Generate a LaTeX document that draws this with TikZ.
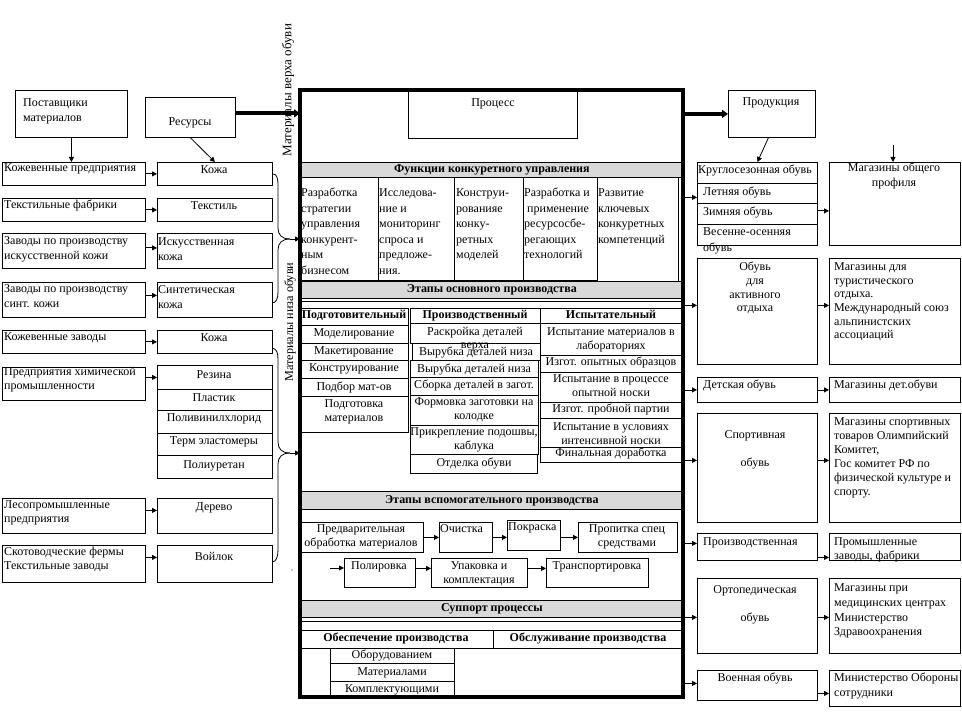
\documentclass[tikz,border=0pt]{standalone}
\usepackage{fontspec}
\setmainfont{Liberation Serif}
\usetikzlibrary{arrows.meta}
\definecolor{bandc}{RGB}{217,217,217}
\AtBeginDocument{\fontsize{12}{15}\selectfont}
\newcommand\fs{\rule{0pt}{10.5pt}}
\newcommand\Bx[5]{\node[bx,minimum width=#4pt,minimum height=#5pt] (#1) at (#2,#3) {};}
\newcommand\Tx[5]{\node[tt,#2] (#1) at (#3,#4) {\fs#5};}
\newcommand\Bd[6]{\node[bx,fill=bandc,minimum width=#4pt,minimum height=#5pt,font=\bfseries] (#1) at (#2,#3) {#6};}
\tikzset{
 bx/.style={draw,line width=0.8pt,anchor=north west,inner sep=0pt},
 tt/.style={inner sep=0pt,anchor=north west,align=left,yshift=7pt},
 cc/.style={anchor=north,align=center},
 bsk/.style={font={\fontsize{12}{#1}\selectfont}},
 arr/.style={line width=0.8pt,-{Triangle[length=5pt,width=5pt]}},
 thk/.style={line width=4pt,-{Triangle[length=6pt,width=8pt]}},
 ln/.style={line width=0.8pt},
}
\begin{document}
\begin{tikzpicture}[x=1pt,y=-1pt]
\useasboundingbox (0,0) rectangle (962,714);
\node[anchor=north west,minimum width=383pt,minimum height=607pt,inner sep=0pt] (main) at (300,90) {};
% ---------- left side
\Bx{post}{15}{90}{112}{47}
\Tx{postt}{}{23}{103}{Поставщики\\материалов}
\Bx{res}{145}{97}{90}{40}
\Tx{rest}{cc}{190}{122}{Ресурсы}
\Bx{s1}{2}{162}{143}{23} \Tx{s1t}{}{4}{168}{Кожевенные предприятия}
\Bx{s2}{2}{198}{143}{23} \Tx{s2t}{}{4}{205}{Текстильные фабрики}
\Bx{s3}{2}{233}{143}{35} \Tx{s3t}{}{4}{241}{Заводы по производству\\искусственной кожи}
\Bx{s4}{2}{282}{143}{35} \Tx{s4t}{}{4}{289}{Заводы по производству\\синт. кожи}
\Bx{s5}{2}{330}{143}{23} \Tx{s5t}{}{4}{337}{Кожевенные заводы}
\Bx{s6}{2}{367}{143}{33} \Tx{s6t}{bsk=14}{4}{372}{Предприятия химической\\промышленности}
\Bx{s7}{2}{498}{143}{35} \Tx{s7t}{bsk=14}{4}{505}{Лесопромышленные\\предприятия}
\Bx{s8}{2}{545}{143}{37} \Tx{s8t}{bsk=14}{4}{552}{Скотоводческие фермы\\Текстильные заводы}
\Bx{m1}{157}{162}{115}{23} \Tx{m1t}{cc}{214}{170}{Кожа}
\Bx{m2}{157}{198}{115}{23} \Tx{m2t}{cc}{214}{206}{Текстиль}
\Bx{m3}{157}{233}{115}{35} \Tx{m3t}{}{158}{242}{Искусственная\\кожа}
\Bx{m4}{157}{282}{115}{35} \Tx{m4t}{}{158}{290}{Синтетическая\\кожа}
\Bx{m5}{157}{330}{115}{23} \Tx{m5t}{cc}{214}{338}{Кожа}
\Bx{r1}{157}{365}{115}{24} \Tx{r1t}{cc}{214}{375}{Резина}
\Bx{r2}{157}{389}{115}{21} \Tx{r2t}{cc}{214}{398}{Пластик}
\Bx{r3}{157}{410}{115}{23} \Tx{r3t}{cc}{214}{418}{Поливинилхлорид}
\Bx{r4}{157}{433}{115}{22} \Tx{r4t}{cc}{214}{441}{Терм эластомеры}
\Bx{r5}{157}{455}{115}{23} \Tx{r5t}{cc}{214}{465}{Полиуретан}
\Bx{m7}{157}{498}{115}{35} \Tx{m7t}{cc}{214}{507}{Дерево}
\Bx{m8}{157}{545}{115}{37} \Tx{m8t}{cc}{214}{557}{Войлок}
\draw[arr] (post.south) -- (post.south |- s1.north);
\draw[arr] (res.south) -- (m1.north);
\draw[arr] (s1.east) -- (m1.west);
\draw[arr] (s2.east) -- (m2.west);
\draw[arr] ([yshift=3pt]s3.east) -- ([yshift=3pt]m3.west);
\draw[arr] ([yshift=4.5pt]s4.east) -- ([yshift=4.5pt]m4.west);
\draw[arr] (s5.east) -- (m5.west);
\draw[arr] (s6.east |- r1.west) -- (r1.west);
\draw[arr] ([yshift=5.5pt]s7.east) -- ([yshift=5.5pt]m7.west);
\draw[arr] ([yshift=6.5pt]s8.east) -- ([yshift=6.5pt]m8.west);
% braces
\coordinate (b1) at (290,239);
\coordinate (b2) at (290,453);
\draw[ln] (m1.east) .. controls (277,174) and (278,178) .. (278,186) -- (278,228) .. controls (278,235) and (282,239) .. (b1);
\draw[ln] (b1) .. controls (282,239) and (278,243) .. (278,250) -- (278,292) .. controls (278,299) and (276,303) .. (272,303);
\draw[ln] (272,348) .. controls (277,349) and (278,353) .. (278,360) -- (278,442) .. controls (278,449) and (282,453) .. (b2);
\draw[ln] (b2) .. controls (282,453) and (278,457) .. (278,464) -- (278,550) .. controls (278,557) and (276,562) .. (272,562);
\draw[arr] (b1) -- (b1 -| main.west);
\draw[arr] (b2) -- (b2 -| main.west);
\fill (292,570) circle (0.6pt);
\node[rotate=90,inner sep=0pt,font=\fontsize{13}{15}\selectfont] (lv) at (288,90) {Материалы верха обуви};
\node[rotate=90,inner sep=0pt,font=\fontsize{12.2}{15}\selectfont] (ln) at (290,322) {Материалы низа обуви};
\draw[thk] ([yshift=4pt]res.east) -- ([yshift=4pt]res.east -| main.west);
% ---------- main box contents
\Bx{proc}{408}{90}{169}{48} \Tx{proct}{cc}{493}{103}{Процесс}
\Bd{f1}{300}{162}{383}{15}{Функции конкуретного управления}
\Bx{fc1}{300}{177}{78}{103}
\Bx{fc2}{378}{177}{76}{103}
\Bx{fc3}{454}{177}{69}{103}
\Bx{fc4}{523}{177}{74}{103}
\Bx{fc5}{597}{177}{81}{105}
\Tx{fc1t}{bsk=15.5}{301}{193}{Разработка\\стратегии\\управления\\конкурент-\\ным\\бизнесом}
\Tx{fc2t}{bsk=15.5}{379}{193}{Исследова-\\ние и\\мониторинг\\спроса и\\предложе-\\ния.}
\Tx{fc3t}{bsk=15.5}{456}{193}{Конструи-\\рованияе\\конку-\\ретных\\моделей}
\Tx{fc4t}{bsk=15.5}{524}{193}{Разработка и\\\ применение\\ресурсосбе-\\регающих\\технологий}
\Tx{fc5t}{bsk=15.5}{598}{193}{Развитие\\ключевых\\конкуретных\\компетенций}
\Bd{f2}{300}{281}{383}{17}{Этапы основного производства}
\draw[ln] (f2.south west |- 0,301) -- (f2.south east |- 0,301);
% column A
\Bx{a0}{300}{308}{108}{17} \Tx{a0t}{cc,font=\bfseries}{354}{315}{Подготовительный}
\Bx{a1}{300}{325}{108}{18} \Tx{a1t}{cc}{354}{333}{Моделирование}
\Bx{a2}{300}{343}{108}{17} \Tx{a2t}{cc}{354}{351}{Макетирование}
\Bx{a3}{300}{360}{108}{18} \Tx{a3t}{cc}{354}{368}{Конструирование}
\Bx{a4}{300}{378}{108}{18} \Tx{a4t}{cc}{354}{387}{Подбор мат-ов}
\Bx{a5}{300}{396}{108}{36} \Tx{a5t}{cc,bsk=13.5}{354}{404}{Подготовка\\материалов}
% column B
\Bx{b0}{410}{308}{130}{15} \Tx{b0t}{cc,font=\bfseries}{475}{315}{Производственный}
\Bx{b1}{410}{323}{130}{20} \Tx{b1t}{cc,bsk=12.5}{475}{332}{Раскройка деталей\\верха}
\Bx{b2}{412}{343}{128}{17} \Tx{b2t}{cc}{476}{352}{Вырубка деталей низа}
\Bx{b3}{410}{360}{128}{17} \Tx{b3t}{cc}{474}{369}{Вырубка деталей низа}
\Bx{b4}{410}{377}{128}{18} \Tx{b4t}{cc}{474}{385}{Сборка деталей в загот.}
\Bx{b5}{410}{395}{128}{30} \Tx{b5t}{cc,bsk=13.5}{474}{402}{Формовка заготовки на\\колодке}
\Bx{b6}{410}{425}{128}{29} \Tx{b6t}{cc,bsk=13.5}{474}{432}{Прикрепление подошвы,\\каблука}
\Bx{b7}{410}{454}{127}{19} \Tx{b7t}{cc}{474}{463}{Отделка обуви}
% column C
\Bx{c0}{540}{308}{142}{15} \Tx{c0t}{cc,font=\bfseries}{611}{315}{Испытательный}
\Bx{c1}{540}{323}{142}{32} \Tx{c1t}{cc,bsk=13.5}{611}{332}{Испытание материалов в\\лабораториях}
\Bx{c2}{540}{355}{142}{17} \Tx{c2t}{cc}{611}{362}{Изгот. опытных образцов}
\Bx{c3}{540}{372}{142}{30} \Tx{c3t}{cc,bsk=13.5}{611}{379}{Испытание в процессе\\опытной носки}
\Bx{c4}{540}{402}{142}{16} \Tx{c4t}{cc}{611}{409}{Изгот. пробной партии}
\Bx{c5}{540}{418}{142}{29} \Tx{c5t}{cc,bsk=13.5}{611}{427}{Испытание в условиях\\интенсивной носки}
\Bx{c6}{540}{447}{142}{15} \Tx{c6t}{cc}{611}{453}{Финальная доработка}
% auxiliary
\Bd{f3}{300}{491}{383}{18}{Этапы вспомогательного производства}
\Bx{v1}{300}{522}{123}{30} \Tx{v1t}{cc,bsk=14}{361}{529}{Предварительная\\обработка материалов}
\Bx{v2}{439}{522}{53}{30} \Tx{v2t}{}{440}{529}{Очистка}
\Bx{v3}{507}{520}{53}{30} \Tx{v3t}{}{508}{527}{Покраска}
\Bx{v4}{578}{522}{99}{30} \Tx{v4t}{cc,bsk=14}{627}{529}{Пропитка спец\\средствами}
\draw[arr] (v1.east) -- (v1.east -| v2.west);
\draw[arr] (v2.east) -- (v2.east -| v3.west);
\draw[arr] ([yshift=-2pt]v3.east) -- ([yshift=-2pt]v3.east -| v4.west);
\Bx{w1}{344}{558}{71}{29} \Tx{w1t}{cc}{379}{566}{Полировка}
\Bx{w2}{431}{558}{96}{29} \Tx{w2t}{cc,bsk=14}{479}{566}{Упаковка и\\комплектация}
\Bx{w3}{546}{558}{102}{29} \Tx{w3t}{cc}{597}{566}{Транспортировка}
\coordinate (w0) at (330,568);
\draw[arr] (w0) -- (w0 -| w1.west);
\draw[arr] ([yshift=4.5pt]w1.east) -- ([yshift=4.5pt]w2.west);
\draw[arr] ([yshift=4.5pt]w2.east) -- ([yshift=4.5pt]w3.west);
% support
\Bd{f4}{300}{600}{383}{17}{Суппорт процессы}
\draw[ln] (f4.south west |- 0,621) -- (f4.south east |- 0,621);
\Bx{o1}{300}{630}{193}{18} \Tx{o1t}{cc,font=\bfseries}{396}{638}{Обеспечение производства}
\Bx{o2}{493}{630}{190}{18} \Tx{o2t}{cc,font=\bfseries}{588}{638}{Обслуживание производства}
\Bx{p1}{330}{648}{124}{15} \Tx{p1t}{cc}{392}{655}{Оборудованием}
\Bx{p2}{330}{663}{124}{18} \Tx{p2t}{cc}{392}{672}{Материалами}
\Bx{p3}{330}{681}{124}{16} \Tx{p3t}{cc}{392}{689}{Комплектующими}
% main border
\draw[line width=4pt] (main.north west) rectangle (main.south east);
% ---------- right side
\Bx{prod}{728}{90}{87}{47} \Tx{prodt}{cc}{771}{102}{Продукция}
\draw[thk] (main.east |- prod.west) -- (prod.west);
\Bx{g1}{697}{162}{120}{21} \Tx{g1t}{}{698}{170}{Круглосезонная обувь}
\Bx{g2}{697}{183}{120}{20} \Tx{g2t}{}{703}{192}{Летняя обувь}
\Bx{g3}{697}{203}{120}{21} \Tx{g3t}{}{703}{212}{Зимняя обувь}
\Bx{g4}{697}{224}{120}{21} \Tx{g4t}{bsk=16}{703}{232}{Весенне-осенняя\\обувь}
\draw[arr] ([xshift=-3.5pt]prod.south) -- (g1.north);
\Bx{mg1}{829}{162}{131}{83} \Tx{mg1t}{cc}{894}{168}{Магазины общего\\профиля}
\coordinate (mtop) at (893,145);
\draw[arr] (mtop) -- (mtop |- mg1.north);
\draw[arr] ([yshift=-4pt]g2.west -| main.east) -- ([yshift=-4pt]g2.west);
\draw[arr] ([yshift=3pt]g3.east) -- ([yshift=3pt]g3.east -| mg1.west);
\Bx{ak}{697}{258}{120}{106} \Tx{akt}{cc,bsk=13.7}{755}{267}{Обувь\\для\\активного\\отдыха}
\Bx{mg2}{829}{258}{131}{106} \Tx{mg2t}{bsk=13.6}{834}{267}{Магазины для\\туристического\\отдыха.\\Международный союз\\альпинистских\\ассоциаций}
\draw[arr] ([yshift=6pt]ak.west -| main.east) -- ([yshift=6pt]ak.west);
\draw[arr] ([yshift=6pt]ak.east) -- ([yshift=6pt]mg2.west);
\Bx{dk}{697}{377}{120}{25} \Tx{dkt}{}{703}{385}{Детская обувь}
\Bx{mg3}{829}{377}{131}{25} \Tx{mg3t}{}{834}{385}{Магазины дет.обуви}
\draw[arr] (dk.west -| main.east) -- (dk.west);
\draw[arr] (dk.east) -- (mg3.west);
\Bx{sp}{697}{413}{120}{109} \Tx{spt}{cc}{755}{435}{Спортивная\\[13pt]обувь}
\Bx{mg4}{829}{413}{131}{109} \Tx{mg4t}{bsk=14}{834}{422}{Магазины спортивных\\товаров Олимпийский\\Комитет,\\Гос комитет РФ по\\физической культуре и\\спорту.}
\draw[arr] ([yshift=7.5pt]sp.west -| main.east) -- ([yshift=7.5pt]sp.west);
\draw[arr] ([yshift=7.5pt]sp.east) -- ([yshift=7.5pt]mg4.west);
\Bx{pr}{697}{533}{120}{27} \Tx{prt}{}{703}{542}{Производственная}
\Bx{mg5}{829}{533}{131}{27} \Tx{mg5t}{bsk=13.5}{834}{542}{Промышленные\\заводы, фабрики}
\draw[arr] ([yshift=3.5pt]pr.west -| main.east) -- ([yshift=3.5pt]pr.west);
\draw[arr] ([yshift=-10.5pt]pr.east) -- ([yshift=-10.5pt]mg5.west);
\Bx{op}{697}{578}{120}{75} \Tx{opt}{cc}{755}{590}{Ортопедическая\\[13pt]обувь}
\Bx{mg6}{829}{578}{131}{75} \Tx{mg6t}{bsk=14.7}{834}{588}{Магазины при\\медицинских центрах\\Министерство\\Здравоохранения}
\draw[arr] ([yshift=-1.5pt]op.west -| main.east) -- ([yshift=-1.5pt]op.west);
\draw[arr] ([yshift=-1.5pt]op.east) -- ([yshift=-1.5pt]mg6.west);
\Bx{vo}{697}{670}{120}{30} \Tx{vot}{cc}{755}{678}{Военная обувь}
\Bx{mg7}{829}{670}{131}{36} \Tx{mg7t}{}{834}{678}{Министерство Обороны\\сотрудники}
\draw[arr] ([yshift=2pt]vo.west -| main.east) -- ([yshift=2pt]vo.west);
\draw[arr] ([yshift=-8pt]vo.east) -- ([yshift=-8pt]vo.east -| mg7.west);
\end{tikzpicture}
\end{document}
